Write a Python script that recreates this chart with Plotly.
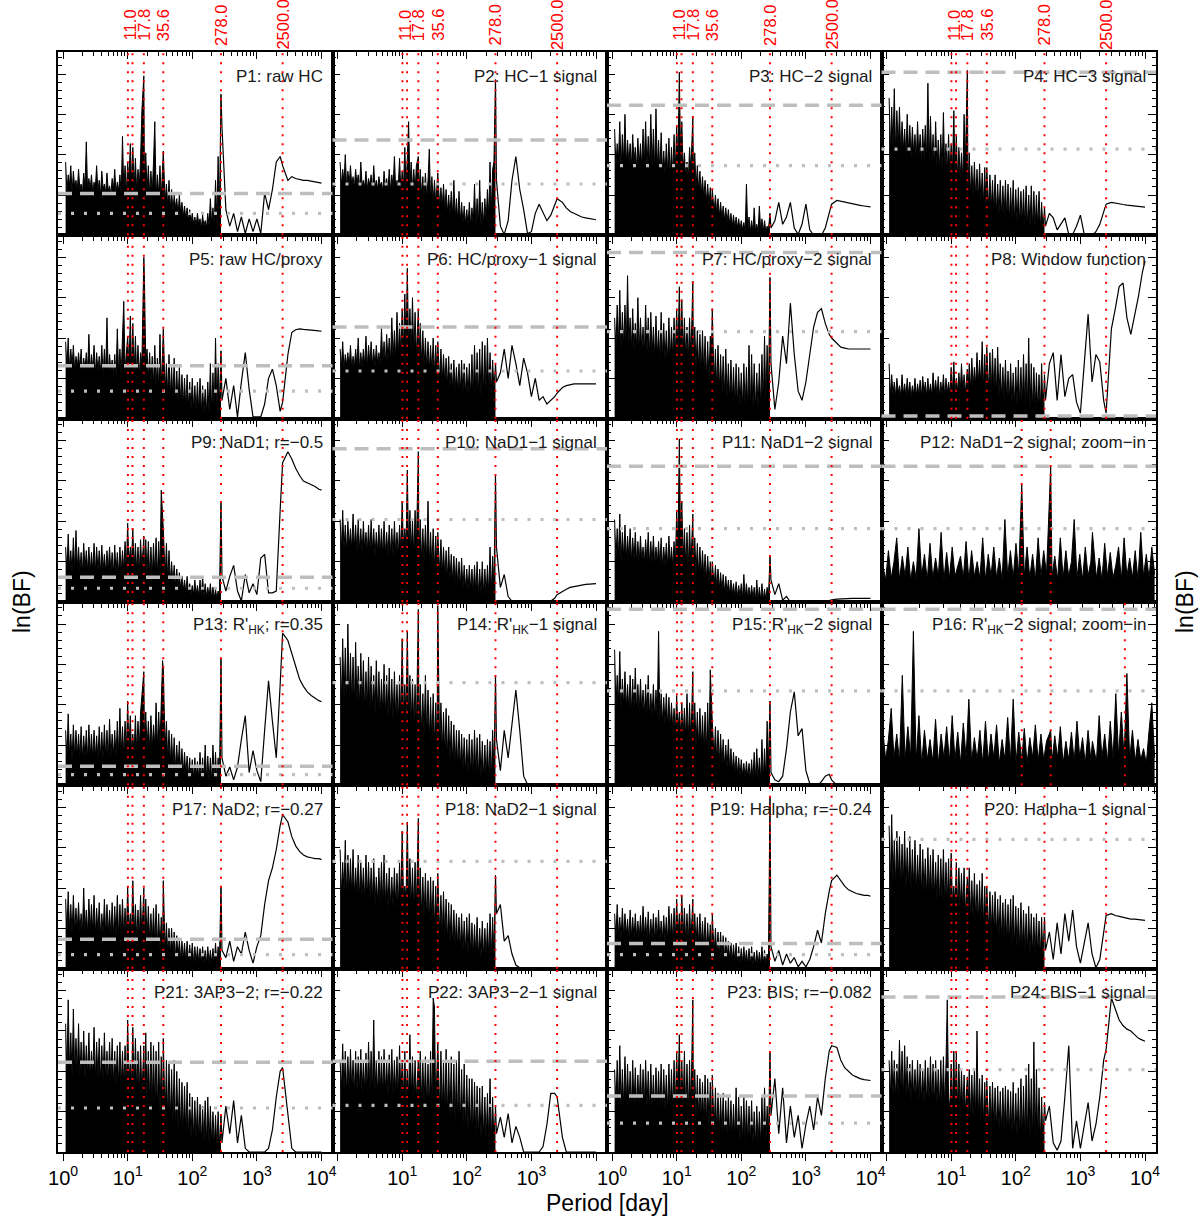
import math
import plotly.graph_objects as go

# ---------------- data ----------------
period_dense = [1.096, 1.148, 1.202, 1.259, 1.318, 1.380, 1.445, 1.514, 1.585, 1.660,
                1.738, 1.820, 1.905, 1.995, 2.089, 2.188, 2.291, 2.399, 2.512, 2.630,
                2.754, 2.884, 3.020, 3.162, 3.311, 3.467, 3.631, 3.802, 3.981, 4.169,
                4.365, 4.571, 4.786, 5.012, 5.248, 5.495, 5.754, 6.026, 6.310, 6.607,
                6.918, 7.244, 7.586, 7.943, 8.318, 8.710, 9.120, 9.550, 10.00, 10.47,
                11.00, 11.48, 12.02, 12.59, 13.18, 13.80, 14.45, 15.14, 15.85, 16.60,
                17.80, 18.20, 19.05, 19.95, 20.89, 21.88, 22.91, 23.99, 25.12, 26.30,
                27.54, 28.84, 30.20, 31.62, 33.11, 34.67, 35.60, 38.02, 39.81, 41.69,
                43.65, 45.71, 47.86, 50.12, 52.48, 54.95, 57.54, 60.26, 63.10, 66.07,
                69.18, 72.44, 75.86, 79.43, 83.18, 87.10, 91.20, 95.50, 100.0, 104.7,
                109.6, 114.8, 120.2, 125.9, 131.8, 138.0, 144.5, 151.4, 158.5, 166.0,
                173.8, 182.0, 190.5, 199.5, 208.9, 218.8, 229.1, 239.9, 251.2, 263.0,
                278.0]
period_sparse = [288, 331, 380, 437, 501, 575, 661, 759, 871, 1000, 1148, 1318, 1514, 1738,
                 1995, 2291, 2500, 3020, 3467, 3981, 4571, 5248, 6026, 6918, 7943, 9120, 10000]

label_periods = [11.0, 17.8, 35.6, 278.0, 2500.0]
label_texts = ["11.0", "17.8", "35.6", "278.0", "2500.0"]
line_periods = [10.1, 11.9, 17.8, 35.6, 278.0, 2500.0]
zoom_marks_p12 = [11.0, 17.8]
zoom_marks_p16 = [11.0, 17.8, 61.0]

panel_labels = ["P1: raw HC", "P2: HC\u22121 signal", "P3: HC\u22122 signal", "P4: HC\u22123 signal",
                "P5: raw HC/proxy", "P6: HC/proxy\u22121 signal", "P7: HC/proxy\u22122 signal", "P8: Window function",
                "P9: NaD1; r=\u22120.5", "P10: NaD1\u22121 signal", "P11: NaD1\u22122 signal", "P12: NaD1\u22122 signal; zoom\u2212in",
                "P13: R'<sub>HK</sub>; r=0.35", "P14: R'<sub>HK</sub>\u22121 signal", "P15: R'<sub>HK</sub>\u22122 signal",
                "P16: R'<sub>HK</sub>\u22122 signal; zoom\u2212in",
                "P17: NaD2; r=\u22120.27", "P18: NaD2\u22121 signal", "P19: Halpha; r=\u22120.24", "P20: Halpha\u22121 signal",
                "P21: 3AP3\u22122; r=\u22120.22", "P22: 3AP3\u22122\u22121 signal", "P23: BIS; r=\u22120.082", "P24: BIS\u22121 signal"]

level_dashed = [22.8, 52, 71, 89, 28.8, 50, 90.7, 1.5, 13.5, 83.6, 74, 74,
                10.4, None, 96, 96, 16, None, 13.7, None, 49, 49.5, 30.6, 84.5]
level_dotted = [12, 28, 38, 47, 15, 26, 47.5, None, 7.5, 45, 40, 40,
                5.8, 56, 51.5, 51.5, 7.7, 58.5, 7.7, 70.5, 24, 25.4, 15.8, 44.9]

p1_dense = [40, 24, 33, 27, 38, 23, 35, 26, 30, 24, 36, 25, 28, 23, 34, 26, 51, 24, 31, 25,
            33, 23, 29, 26, 38, 24, 30, 22, 35, 25, 28, 23, 34, 24, 27, 22, 31, 25, 36, 23,
            29, 24, 33, 22, 54, 25, 38, 23, 40, 30, 50, 28, 48, 26, 42, 24, 36, 27, 42, 68,
            87, 30, 45, 24, 38, 22, 35, 23, 40, 62, 21, 33, 22, 38, 20, 40, 46, 18, 28, 16,
            30, 14, 25, 13, 22, 15, 20, 11, 22, 12, 18, 10, 16, 9, 15, 8, 14, 7, 12, 6,
            10, 5, 12, 6, 9, 4, 11, 5, 8, 4, 12, 5, 20, 6, 15, 5, 30, 8, 43, 12, 77]
p1_sparse = [59, 14, 5, 12, 2, 10, 1, 9, 2, 9, 1, 23, 14, 25, 40, 43, 38, 30, 32, 31, 30.5, 30, 30, 29.5, 29, 28.6, 28.5]
p2_dense = [40, 27, 36, 29, 44, 26, 35, 28, 38, 27, 32, 26, 36, 28, 33, 25, 40, 27, 30, 26,
            35, 25, 31, 27, 33, 24, 38, 26, 30, 25, 32, 27, 29, 24, 35, 26, 31, 25, 36, 24,
            33, 26, 43, 25, 30, 27, 42, 24, 35, 26, 48, 27, 42, 62, 28, 40, 25, 36, 24, 38,
            43, 23, 36, 22, 32, 21, 34, 20, 30, 47, 19, 32, 18, 30, 17, 34, 34, 16, 26, 15,
            28, 14, 25, 12, 22, 11, 24, 10, 30, 9, 20, 8, 24, 7, 18, 6, 16, 6, 14, 5,
            18, 5, 15, 6, 28, 5, 20, 6, 30, 5, 18, 6, 20, 8, 25, 10, 40, 12, 36, 40, 85]
p2_sparse = [30, 5, 0.5, 8, 30, 43, 25, 14, 1, 2, 12, 17, 12, 8, 11, 17, 20, 18, 15, 13, 12, 11, 10, 9.5, 9, 8.7, 8.5]
p3_dense = [58, 38, 50, 41, 62, 36, 55, 40, 66, 38, 52, 39, 50, 37, 55, 40, 48, 36, 53, 38,
            50, 37, 58, 39, 62, 36, 54, 38, 66, 37, 58, 35, 69, 36, 52, 34, 56, 35, 46, 33,
            50, 34, 53, 32, 48, 33, 55, 35, 60, 40, 89, 45, 62, 36, 45, 32, 40, 30, 48, 35,
            65, 32, 45, 26, 38, 24, 35, 22, 32, 20, 30, 18, 28, 16, 26, 15, 25, 13, 22, 12,
            20, 10, 18, 9, 16, 8, 15, 7, 14, 6, 12, 5, 11, 4, 10, 4, 9, 3, 8, 3,
            7, 2, 28, 3, 10, 2, 8, 2, 15, 2, 6, 2, 16, 3, 9, 2, 8, 2, 5, 3, 12]
p3_sparse = [4, 8, 18, 6, 10, 18, 4, 0.5, 6, 17, 3, 0, 0, 0, 4, 12, 17, 19, 18.5, 18, 17.5, 17, 16.6, 16.3, 16, 15.7, 15.5]
p4_dense = [75, 46, 70, 48, 80, 45, 68, 47, 70, 44, 62, 46, 58, 43, 66, 45, 60, 42, 59, 44,
            55, 41, 62, 43, 55, 40, 58, 42, 60, 41, 83, 40, 65, 39, 55, 38, 62, 37, 52, 36,
            55, 35, 67, 36, 50, 34, 55, 33, 50, 35, 68, 33, 55, 30, 48, 31, 45, 29, 66, 40,
            90, 25, 45, 22, 38, 21, 40, 20, 36, 19, 39, 18, 34, 17, 37, 16, 37, 15, 33, 14,
            30, 13, 33, 12, 28, 11, 30, 10, 27, 10, 30, 9, 28, 8, 26, 8, 30, 7, 25, 7,
            26, 6, 24, 6, 25, 5, 27, 5, 22, 5, 27, 4, 24, 4, 22, 4, 24, 3, 18, 3, 15]
p4_sparse = [5, 12, 9.5, 3, 6, 9.5, 0.5, 0.5, 5, 11, 0.5, 0, 0, 2, 6, 12, 17, 18, 17.5, 17, 16.8, 16.5, 16.2, 16, 15.7, 15.5, 15.4]
p5_dense = [42, 28, 44, 27, 38, 29, 40, 26, 34, 28, 36, 27, 38, 25, 33, 27, 36, 26, 46, 25,
            35, 27, 40, 24, 36, 26, 34, 25, 40, 24, 38, 25, 55, 23, 35, 26, 32, 24, 35, 23,
            49, 24, 38, 23, 45, 64, 26, 38, 45, 28, 56, 26, 52, 25, 45, 24, 40, 23, 36, 30,
            88, 76, 30, 38, 22, 36, 20, 34, 18, 40, 17, 33, 16, 46, 18, 35, 49, 14, 30, 13,
            35, 12, 28, 11, 33, 10, 26, 9, 28, 8, 24, 7, 22, 6, 24, 6, 20, 5, 22, 5,
            18, 4, 20, 4, 22, 3, 18, 3, 16, 3, 20, 3, 30, 4, 25, 5, 44, 6, 30, 8, 37]
p5_sparse = [10, 22, 5, 18, 1, 20, 36, 16, 1, 1, 1, 8, 22, 27, 18, 4, 9, 35, 47, 48.5, 49, 48.7, 48.4, 48.2, 48, 47.9, 47.8]
p6_dense = [38, 28, 42, 27, 35, 29, 36, 28, 40, 27, 34, 28, 38, 29, 44, 27, 36, 28, 38, 29,
            45, 28, 40, 30, 42, 29, 38, 28, 40, 30, 36, 29, 50, 31, 42, 30, 46, 32, 44, 31,
            55, 33, 48, 32, 58, 34, 52, 35, 60, 38, 68, 40, 82, 38, 60, 36, 66, 35, 58, 34,
            60, 32, 52, 30, 48, 28, 44, 27, 42, 26, 40, 25, 44, 24, 40, 23, 42, 21, 38, 20,
            35, 19, 33, 18, 34, 17, 30, 16, 32, 15, 28, 15, 30, 14, 32, 14, 30, 13, 28, 13,
            30, 12, 35, 12, 40, 13, 36, 12, 38, 12, 42, 13, 40, 14, 44, 14, 36, 15, 32, 16, 30]
p6_sparse = [20, 25, 38, 22, 40, 30, 18, 33, 25, 12, 22, 10, 12, 8, 10, 12, 14, 17, 18, 18.5, 19, 19, 19, 19, 19, 19, 19]
p7_dense = [55, 38, 62, 40, 70, 37, 58, 39, 62, 38, 78, 40, 55, 38, 60, 37, 52, 38, 66, 36,
            55, 37, 50, 35, 62, 36, 55, 34, 58, 35, 50, 33, 56, 34, 48, 32, 58, 33, 52, 32,
            48, 31, 55, 32, 50, 33, 55, 34, 60, 36, 72, 38, 65, 34, 55, 33, 50, 31, 55, 32,
            75, 30, 50, 28, 48, 27, 46, 25, 48, 24, 45, 22, 42, 21, 45, 40, 60, 18, 38, 16,
            40, 15, 35, 13, 34, 12, 38, 11, 30, 10, 32, 9, 28, 8, 30, 7, 28, 7, 25, 6,
            30, 6, 28, 5, 40, 5, 35, 5, 30, 5, 25, 5, 30, 6, 35, 7, 45, 9, 40, 12, 77]
p7_sparse = [30, 5, 20, 45, 30, 63, 35, 15, 10, 20, 35, 50, 58, 60, 52, 46, 44, 41, 39, 38.5, 38, 38, 38, 38, 38, 38, 38]
p8_dense = [30, 12, 24, 13, 20, 12, 22, 14, 18, 12, 24, 13, 19, 12, 22, 13, 20, 12, 18, 13,
            22, 12, 19, 13, 21, 12, 23, 14, 20, 12, 22, 13, 19, 12, 25, 14, 21, 13, 23, 12,
            20, 13, 24, 12, 22, 14, 20, 13, 28, 14, 31, 14, 22, 15, 25, 14, 30, 15, 24, 14,
            27, 15, 30, 16, 33, 17, 28, 18, 36, 19, 32, 18, 42, 17, 35, 16, 39, 15, 36, 14,
            38, 14, 33, 13, 39, 12, 30, 11, 28, 10, 32, 9, 26, 9, 30, 8, 25, 8, 28, 7,
            32, 7, 28, 6, 35, 6, 30, 6, 44, 5, 30, 5, 28, 5, 25, 4, 24, 4, 30, 4, 24]
p8_sparse = [10, 30, 36, 10, 35, 12, 22, 24, 9, 3, 30, 57, 20, 35, 31, 10, 3, 49, 60, 72, 74, 55, 46, 56, 67, 80, 86]
p9_dense = [30, 17, 37, 18, 28, 16, 35, 17, 39, 18, 30, 17, 27, 16, 32, 18, 28, 17, 30, 16,
            27, 17, 32, 16, 30, 17, 28, 16, 31, 17, 26, 16, 28, 17, 30, 16, 27, 15, 31, 16,
            27, 15, 30, 16, 28, 17, 33, 18, 43, 20, 30, 22, 40, 18, 32, 17, 30, 16, 34, 18,
            36, 17, 34, 16, 33, 15, 30, 14, 32, 15, 35, 14, 33, 16, 61, 40, 40, 14, 32, 12,
            28, 11, 22, 10, 20, 9, 18, 8, 16, 7, 14, 6, 12, 5, 14, 5, 10, 4, 9, 4,
            12, 4, 9, 3, 12, 3, 14, 3, 10, 3, 8, 3, 10, 2, 8, 2, 7, 2, 6, 3, 54]
p9_sparse = [14, 6, 14, 20, 6, 0.5, 15, 5, 10, 4, 24, 26, 5, 5, 6, 50, 76, 82, 78, 73, 69, 66, 65, 64, 63, 61.5, 61]
p10_dense = [45, 28, 50, 29, 42, 27, 44, 30, 40, 28, 48, 29, 42, 27, 45, 28, 40, 26, 44, 28,
             38, 27, 42, 26, 45, 28, 40, 25, 38, 27, 42, 26, 40, 25, 44, 26, 38, 25, 42, 26,
             40, 25, 44, 26, 38, 25, 42, 27, 55, 30, 40, 30, 72, 28, 50, 27, 45, 25, 50, 30,
             82, 25, 45, 23, 40, 22, 42, 21, 55, 20, 38, 19, 40, 18, 36, 17, 38, 16, 34, 15,
             30, 14, 28, 13, 30, 12, 26, 11, 25, 10, 24, 9, 22, 8, 24, 7, 20, 7, 18, 6,
             20, 6, 18, 5, 20, 5, 22, 4, 18, 4, 22, 4, 18, 4, 20, 4, 30, 5, 25, 8, 69]
p10_sparse = [30, 8, 15, 3, 0.3, 0, 0, 0, 0, 0, 0, 0, 0, 0, 0.5, 2, 4, 6, 7, 8, 8.5, 9, 9.3, 9.6, 9.8, 10, 10]
p11_dense = [45, 23, 40, 25, 48, 22, 38, 24, 42, 23, 36, 24, 40, 22, 35, 23, 38, 22, 33, 21,
             36, 22, 30, 21, 34, 22, 38, 20, 33, 21, 36, 20, 30, 21, 33, 20, 35, 19, 30, 20,
             32, 19, 36, 20, 30, 19, 33, 20, 50, 30, 89, 35, 55, 22, 40, 20, 38, 18, 42, 20,
             48, 17, 35, 16, 32, 15, 30, 14, 28, 13, 26, 12, 25, 11, 22, 10, 22, 9, 20, 8,
             18, 7, 16, 6, 15, 5, 14, 5, 12, 4, 12, 4, 10, 3, 11, 3, 9, 3, 10, 2,
             15, 2, 10, 2, 8, 2, 9, 2, 8, 1, 12, 1, 8, 1, 10, 1, 7, 1, 8, 2, 25]
p11_sparse = [12, 4, 10, 1, 3, 0, 0, 0, 0, 0, 0, 0, 0, 0, 0.2, 0.8, 1.2, 1.6, 1.8, 2, 2, 2, 2, 2, 2, 2, 2]
p12_zoom = [20, 12, 28, 13, 22, 35, 12, 25, 14, 30, 12, 22, 13, 40, 14, 26, 12, 32, 13, 24,
            14, 38, 12, 27, 13, 30, 14, 20, 25, 13, 33, 12, 28, 14, 22, 13, 35, 12, 26, 14,
            30, 13, 24, 12, 45, 14, 28, 13, 32, 15, 64, 14, 30, 13, 26, 12, 35, 14, 28, 15,
            74, 14, 25, 12, 35, 13, 28, 14, 22, 45, 13, 26, 12, 30, 14, 22, 38, 13, 24, 12,
            32, 14, 27, 13, 20, 30, 12, 35, 14, 24, 13, 28, 12, 38, 14, 26, 13, 30, 15]
p13_dense = [30, 15, 39, 16, 28, 14, 33, 15, 30, 16, 28, 15, 32, 14, 27, 15, 30, 14, 33, 15,
             28, 14, 30, 15, 27, 14, 32, 15, 29, 14, 33, 15, 30, 14, 36, 15, 28, 16, 30, 15,
             35, 16, 42, 17, 32, 16, 35, 18, 46, 20, 38, 18, 28, 17, 38, 18, 35, 20, 40, 50,
             62, 24, 40, 20, 35, 19, 38, 20, 33, 21, 45, 20, 40, 22, 50, 68, 64, 20, 35, 14,
             30, 12, 28, 10, 26, 9, 22, 8, 24, 7, 20, 6, 18, 6, 16, 5, 15, 5, 14, 4,
             15, 4, 13, 3, 18, 3, 15, 3, 22, 3, 16, 2, 15, 2, 22, 3, 18, 2, 15, 3, 69]
p13_sparse = [15, 5, 10, 3, 10, 25, 38, 7, 19, 8, 2, 30, 57, 35, 15, 55, 83, 79, 72, 64, 58, 54, 51, 49, 47.5, 46.2, 45.6]
p14_dense = [70, 45, 80, 47, 75, 44, 88, 46, 72, 45, 70, 43, 78, 45, 65, 42, 72, 44, 68, 41,
             62, 42, 70, 40, 65, 41, 60, 39, 68, 40, 62, 38, 58, 39, 66, 37, 60, 36, 64, 37,
             58, 35, 62, 36, 55, 34, 60, 35, 80, 38, 55, 36, 84, 35, 60, 33, 58, 32, 55, 31,
             96, 30, 55, 28, 50, 27, 60, 26, 52, 24, 48, 23, 50, 22, 45, 21, 98, 20, 45, 18,
             40, 16, 42, 15, 38, 14, 35, 12, 33, 11, 30, 10, 30, 9, 28, 8, 26, 7, 25, 6,
             28, 6, 25, 5, 30, 5, 26, 4, 28, 4, 24, 4, 22, 4, 25, 4, 24, 4, 30, 8, 60]
p14_sparse = [25, 8, 30, 15, 35, 52, 30, 5, 0.5, 0, 0, 0, 0, 0, 0, 0, 0, 0, 0, 0, 0, 0, 0, 0, 0, 0, 0]
p15_dense = [74, 42, 60, 44, 73, 41, 58, 43, 62, 42, 55, 41, 60, 40, 58, 42, 64, 40, 55, 39,
             58, 40, 52, 38, 55, 39, 60, 37, 50, 38, 55, 36, 52, 37, 84, 35, 50, 34, 48, 33,
             50, 32, 48, 31, 45, 30, 42, 29, 49, 30, 40, 28, 45, 27, 42, 26, 50, 25, 45, 24,
             62, 23, 45, 22, 40, 21, 42, 20, 38, 19, 40, 18, 45, 17, 63, 50, 35, 15, 32, 13,
             30, 12, 28, 11, 25, 10, 22, 9, 25, 8, 20, 7, 18, 6, 16, 6, 15, 5, 14, 5,
             12, 4, 13, 4, 12, 3, 14, 3, 18, 3, 20, 3, 15, 3, 25, 3, 20, 3, 35, 10, 46]
p15_sparse = [7, 3, 2, 5, 20, 40, 51, 27, 31, 8, 1, 0, 0, 2, 5, 6, 3, 0, 0, 0, 0, 0, 0, 0, 0, 0, 0]
p16_zoom = [30, 14, 25, 42, 15, 28, 13, 60, 14, 32, 15, 84, 13, 38, 12, 30, 14, 25, 13, 36,
            12, 28, 15, 32, 13, 38, 14, 29, 12, 34, 15, 47, 13, 26, 14, 30, 12, 35, 13, 28,
            15, 33, 12, 25, 14, 37, 13, 47, 12, 29, 14, 31, 12, 26, 15, 33, 13, 28, 14, 24,
            30, 13, 27, 15, 32, 12, 24, 14, 29, 13, 35, 15, 26, 12, 30, 14, 24, 13, 38, 15,
            28, 13, 35, 14, 50, 16, 40, 15, 61, 14, 30, 13, 25, 14, 20, 12, 30, 45, 15]
p17_dense = [38, 20, 42, 21, 35, 19, 40, 20, 33, 21, 36, 20, 30, 19, 44, 20, 32, 19, 38, 20,
             35, 19, 40, 18, 33, 19, 36, 18, 30, 19, 38, 18, 35, 19, 32, 18, 36, 17, 34, 18,
             40, 17, 35, 18, 38, 17, 33, 18, 45, 20, 30, 19, 48, 18, 35, 17, 32, 16, 40, 17,
             44, 16, 38, 15, 34, 15, 30, 14, 33, 13, 35, 12, 30, 11, 28, 10, 48, 9, 25, 8,
             22, 7, 22, 7, 20, 6, 18, 6, 16, 5, 15, 5, 14, 4, 15, 4, 13, 4, 14, 3,
             12, 3, 12, 3, 11, 3, 12, 3, 10, 3, 12, 3, 10, 3, 11, 3, 14, 3, 12, 4, 45]
p17_sparse = [10, 6, 15, 4, 12, 8, 20, 10, 3, 12, 18, 35, 48, 55, 65, 78, 84, 80, 72, 67, 64, 62, 61, 60.5, 60, 60, 59.5]
p18_dense = [65, 40, 58, 42, 70, 39, 62, 41, 60, 40, 65, 39, 55, 40, 62, 38, 58, 39, 55, 37,
             62, 38, 58, 36, 55, 37, 60, 35, 50, 36, 55, 35, 58, 34, 62, 35, 52, 33, 55, 34,
             50, 33, 55, 34, 52, 33, 58, 35, 75, 40, 45, 38, 80, 35, 60, 33, 55, 32, 58, 33,
             82, 31, 55, 29, 50, 28, 52, 27, 48, 25, 50, 24, 48, 22, 45, 21, 52, 19, 40, 18,
             42, 17, 38, 15, 36, 14, 35, 13, 32, 12, 30, 11, 28, 10, 30, 9, 26, 9, 28, 8,
             30, 8, 25, 7, 24, 7, 28, 6, 22, 6, 26, 6, 22, 6, 25, 6, 30, 7, 28, 8, 51]
p18_sparse = [30, 35, 15, 18, 8, 2, 0.5, 0, 0, 0, 0, 0, 0, 0, 0, 0, 0, 0, 0, 0, 0, 0, 0, 0, 0, 0, 0]
p19_dense = [30, 17, 35, 18, 28, 16, 33, 17, 30, 18, 27, 16, 32, 17, 28, 16, 30, 17, 26, 16,
             29, 16, 34, 17, 28, 16, 31, 15, 27, 16, 30, 15, 28, 16, 32, 15, 26, 16, 29, 15,
             28, 15, 34, 16, 30, 15, 33, 16, 38, 18, 30, 17, 40, 16, 33, 15, 30, 14, 35, 15,
             38, 14, 30, 13, 28, 13, 30, 12, 26, 11, 28, 10, 25, 10, 24, 9, 30, 8, 22, 8,
             20, 7, 20, 6, 18, 6, 17, 5, 15, 5, 14, 4, 13, 4, 14, 3, 12, 3, 11, 3,
             12, 3, 10, 2, 11, 2, 12, 2, 9, 2, 10, 2, 9, 2, 12, 2, 10, 2, 8, 3, 94]
p19_sparse = [12, 4, 10, 2, 8, 3, 6, 1, 4, 1, 5, 12, 21, 14, 30, 42, 48, 51, 48, 45, 43, 42, 41, 40.5, 40, 40, 39.5]
p20_dense = [78, 46, 84, 48, 70, 45, 75, 47, 72, 44, 68, 46, 75, 43, 66, 45, 72, 42, 65, 44,
             70, 41, 62, 43, 68, 40, 65, 42, 60, 39, 66, 40, 62, 38, 65, 39, 58, 37, 62, 36,
             60, 37, 65, 35, 58, 36, 60, 34, 63, 36, 45, 34, 58, 33, 55, 32, 52, 31, 55, 30,
             50, 29, 55, 28, 48, 27, 52, 26, 46, 25, 48, 24, 52, 23, 45, 22, 45, 21, 42, 20,
             40, 19, 42, 18, 38, 17, 40, 16, 36, 15, 38, 14, 35, 13, 38, 12, 40, 12, 34, 11,
             33, 10, 36, 10, 32, 9, 30, 9, 34, 8, 30, 8, 28, 7, 30, 7, 26, 6, 28, 6, 28]
p20_sparse = [10, 20, 5, 25, 8, 30, 15, 32, 12, 3, 15, 25, 8, 0.5, 5, 20, 29, 30, 29, 28.5, 28, 27.5, 27, 27, 26.7, 26.5, 26.3]
p21_dense = [70, 42, 83, 44, 65, 41, 78, 43, 62, 42, 70, 41, 60, 43, 66, 40, 58, 42, 65, 40,
             55, 41, 68, 39, 60, 40, 62, 38, 58, 39, 65, 38, 55, 37, 60, 38, 62, 36, 55, 37,
             58, 36, 60, 35, 55, 36, 58, 34, 72, 38, 50, 36, 68, 34, 62, 33, 55, 32, 58, 31,
             58, 30, 65, 28, 55, 27, 60, 25, 58, 24, 55, 22, 60, 21, 52, 20, 62, 18, 50, 17,
             48, 16, 45, 15, 50, 13, 44, 12, 40, 11, 38, 10, 36, 9, 38, 8, 32, 7, 30, 7,
             28, 6, 30, 6, 26, 5, 25, 5, 28, 4, 30, 4, 25, 4, 22, 3, 20, 3, 22, 3, 20]
p21_sparse = [5, 25, 10, 28, 5, 20, 2, 0, 0, 0, 0, 0, 2, 12, 30, 44, 46, 20, 2, 0, 0, 0, 0, 0, 0, 0, 0]
p22_dense = [50, 33, 59, 34, 55, 32, 52, 33, 56, 34, 50, 32, 55, 33, 52, 34, 56, 32, 50, 33,
             54, 32, 60, 33, 55, 32, 72, 33, 50, 31, 55, 32, 52, 31, 56, 32, 50, 31, 53, 32,
             56, 31, 50, 32, 52, 30, 58, 31, 50, 30, 55, 31, 45, 30, 64, 29, 52, 28, 50, 29,
             50, 28, 55, 27, 50, 26, 52, 25, 48, 24, 55, 23, 84, 79, 24, 50, 60, 22, 55, 21,
             50, 20, 56, 19, 50, 18, 52, 17, 48, 16, 50, 15, 55, 14, 45, 13, 48, 12, 42, 11,
             40, 10, 40, 9, 38, 8, 36, 8, 35, 7, 36, 7, 30, 6, 32, 6, 40, 5, 30, 5, 25]
p22_sparse = [10, 19, 8, 21, 5, 14, 8, 0, 0, 0, 0, 0, 3, 15, 32, 32, 30, 8, 0, 0, 0, 0, 0, 0, 0, 0, 0]
p23_dense = [45, 25, 50, 26, 58, 24, 45, 25, 52, 26, 48, 25, 44, 24, 50, 25, 46, 24, 42, 25,
             48, 24, 45, 25, 50, 24, 44, 23, 48, 24, 42, 23, 46, 24, 44, 23, 48, 22, 45, 23,
             42, 22, 48, 23, 45, 22, 50, 24, 55, 30, 64, 28, 50, 24, 55, 22, 48, 21, 50, 22,
             83, 20, 45, 19, 42, 18, 40, 17, 38, 16, 42, 15, 40, 14, 38, 13, 42, 12, 35, 11,
             32, 11, 30, 10, 32, 9, 28, 9, 30, 8, 28, 8, 26, 7, 35, 7, 30, 6, 25, 6,
             30, 5, 28, 5, 25, 5, 28, 4, 22, 4, 25, 4, 22, 4, 30, 5, 35, 5, 25, 8, 54]
p23_sparse = [20, 40, 10, 35, 5, 25, 8, 20, 2, 15, 25, 12, 30, 20, 40, 55, 58, 57, 50, 46, 44, 42, 41, 40, 39.5, 39, 39]
p24_dense = [50, 30, 55, 31, 50, 29, 48, 30, 61, 31, 55, 29, 58, 30, 52, 29, 48, 28, 50, 29,
             45, 28, 50, 27, 48, 28, 45, 27, 50, 26, 46, 27, 52, 26, 48, 25, 50, 26, 45, 25,
             50, 25, 52, 24, 48, 83, 30, 24, 48, 25, 55, 24, 54, 23, 48, 22, 45, 21, 42, 22,
             41, 20, 45, 19, 42, 18, 45, 17, 66, 17, 40, 16, 42, 15, 38, 15, 39, 14, 36, 14,
             38, 13, 35, 12, 36, 12, 33, 11, 35, 11, 36, 10, 34, 10, 33, 9, 38, 9, 32, 8,
             35, 8, 40, 8, 36, 7, 42, 7, 48, 7, 40, 6, 60, 6, 45, 6, 35, 5, 30, 5, 27]
p24_sparse = [17, 25, 5, 1, 6, 30, 58, 2, 17, 2, 15, 27, 6, 15, 30, 50, 56, 84, 78, 72, 69, 67, 66, 64, 62, 61, 60.4]

dense_sets = [p1_dense, p2_dense, p3_dense, p4_dense, p5_dense, p6_dense, p7_dense, p8_dense,
              p9_dense, p10_dense, p11_dense, p12_zoom, p13_dense, p14_dense, p15_dense, p16_zoom,
              p17_dense, p18_dense, p19_dense, p20_dense, p21_dense, p22_dense, p23_dense, p24_dense]
sparse_sets = [p1_sparse, p2_sparse, p3_sparse, p4_sparse, p5_sparse, p6_sparse, p7_sparse, p8_sparse,
               p9_sparse, p10_sparse, p11_sparse, None, p13_sparse, p14_sparse, p15_sparse, None,
               p17_sparse, p18_sparse, p19_sparse, p20_sparse, p21_sparse, p22_sparse, p23_sparse, p24_sparse]
zoom_panels = {11: zoom_marks_p12, 15: zoom_marks_p16}

# ---------------- figure ----------------
W, H = 1201, 1222
ML, MR, MT, MB = 58, 45, 52, 70
XR = [-0.078, 4.17]
ZR = [0.03, 2.01]
FONT = "Liberation Sans, Arial, Helvetica, sans-serif"
GRAY = "#BEBEBE"

major_vals = [1, 10, 100, 1000, 10000]
minor_vals = [m * 10 ** k for k in range(0, 5) for m in range(2, 10)]
sup = ["10<sup>0</sup>", "10<sup>1</sup>", "10<sup>2</sup>", "10<sup>3</sup>", "10<sup>4</sup>"]
bottom_text = [sup, ["", sup[1], sup[2], sup[3], ""], sup, ["", sup[1], sup[2], sup[3], sup[4]]]

fig = go.Figure()
layout = dict(width=W, height=H, margin=dict(l=ML, r=MR, t=MT, b=MB),
              paper_bgcolor="white", plot_bgcolor="white", showlegend=False,
              font=dict(family=FONT, color="black"))
shapes, annotations = [], []


def frac_of(p, rng):
    return (math.log10(p) - rng[0]) / (rng[1] - rng[0])


for i in range(24):
    r, c = divmod(i, 4)
    n = "" if i == 0 else str(i + 1)
    xd = [c / 4, (c + 1) / 4]
    yd = [1 - (r + 1) / 6, 1 - r / 6]
    zoom = i in zoom_panels
    xr = ZR if zoom else XR

    xa = dict(domain=xd, anchor="y" + n, type="log", range=xr,
              showline=True, linecolor="black", linewidth=1.6, mirror=True,
              ticks="outside", ticklen=7, tickwidth=1.2, tickcolor="black",
              tickmode="array", tickvals=major_vals, showticklabels=False,
              showgrid=False, zeroline=False,
              minor=dict(ticks="outside", ticklen=4, tickwidth=1, tickcolor="black",
                         tickmode="array", tickvals=minor_vals, showgrid=False))
    if r == 5:
        xa.update(showticklabels=True, ticktext=bottom_text[c],
                  tickfont=dict(size=20, family=FONT, color="black"))
    ya = dict(domain=yd, anchor="x" + n, range=[0, 100],
              showline=True, linecolor="black", linewidth=1.6,
              mirror="ticks" if c == 3 else True,
              ticks="inside", ticklen=8, tickwidth=1.2, tickcolor="black",
              tickmode="linear", tick0=0, dtick=22, showticklabels=False,
              showgrid=False, zeroline=False,
              minor=dict(ticks="inside", ticklen=4, tickwidth=1, tickcolor="black",
                         tickmode="linear", tick0=0, dtick=4.4, showgrid=False))
    layout["xaxis" + n] = xa
    layout["yaxis" + n] = ya

    if zoom:
        zx = period_dense[:len(dense_sets[i])]
        fig.add_trace(go.Scatter(x=zx, y=dense_sets[i], mode="lines",
                                 line=dict(color="black", width=1), fill="tozeroy",
                                 fillcolor="black", xaxis="x" + n, yaxis="y" + n,
                                 hoverinfo="skip"))
    else:
        fig.add_trace(go.Scatter(x=period_dense, y=dense_sets[i], mode="lines",
                                 line=dict(color="black", width=1), fill="tozeroy",
                                 fillcolor="black", xaxis="x" + n, yaxis="y" + n,
                                 hoverinfo="skip"))
        fig.add_trace(go.Scatter(x=period_dense[-1:] + period_sparse,
                                 y=dense_sets[i][-1:] + sparse_sets[i], mode="lines",
                                 line=dict(color="black", width=1.2),
                                 xaxis="x" + n, yaxis="y" + n, hoverinfo="skip"))

    if level_dashed[i] is not None:
        shapes.append(dict(type="line", xref="x%s domain" % n, yref="y" + n,
                           x0=0, x1=1, y0=level_dashed[i], y1=level_dashed[i],
                           line=dict(color=GRAY, width=3.5, dash="14px,8px")))
    if level_dotted[i] is not None:
        shapes.append(dict(type="line", xref="x%s domain" % n, yref="y" + n,
                           x0=0, x1=1, y0=level_dotted[i], y1=level_dotted[i],
                           line=dict(color=GRAY, width=3.2, dash="3px,10px")))
    marks = zoom_panels[i] if zoom else line_periods
    for p in marks:
        f = frac_of(p, xr)
        shapes.append(dict(type="line", xref="x%s domain" % n, yref="y%s domain" % n,
                           x0=f, x1=f, y0=0, y1=1,
                           line=dict(color="red", width=2, dash="2px,7px")))
    annotations.append(dict(text=panel_labels[i], xref="x%s domain" % n, yref="y%s domain" % n,
                            x=1, y=1, xanchor="right", yanchor="middle", xshift=-8, yshift=-24,
                            showarrow=False, font=dict(size=17, family=FONT, color="#1a1a1a")))

# top ticks for the first row and the red period labels
for c in range(4):
    n = "" if c == 0 else str(c + 1)
    k = str(25 + c)
    layout["xaxis" + k] = dict(overlaying="x" + n, anchor="y" + n, side="top", type="log", range=XR,
                               showline=False, ticks="inside", ticklen=7, tickwidth=1.2,
                               tickcolor="black", tickmode="array", tickvals=major_vals,
                               showticklabels=False, showgrid=False, zeroline=False,
                               minor=dict(ticks="inside", ticklen=4, tickwidth=1, tickcolor="black",
                                          tickmode="array", tickvals=minor_vals, showgrid=False))
    fig.add_trace(go.Scatter(x=[], y=[], xaxis="x" + k, yaxis="y" + n, hoverinfo="skip"))
    for p, lab in zip(label_periods, label_texts):
        f = frac_of(p, XR)
        annotations.append(dict(text=lab, xref="paper", yref="paper", x=(c + f) / 4, y=1,
                                yshift=27, xanchor="center", yanchor="middle", textangle=-90,
                                showarrow=False, font=dict(size=16.5, family=FONT, color="red")))

annotations.append(dict(text="Period [day]", xref="paper", yref="paper", x=0.5, y=0, yshift=-51,
                        xanchor="center", yanchor="middle", showarrow=False,
                        font=dict(size=23, family=FONT, color="black")))
annotations.append(dict(text="ln(BF)", xref="paper", yref="paper", x=0, y=0.5, xshift=-36,
                        xanchor="center", yanchor="middle", textangle=-90, showarrow=False,
                        font=dict(size=23, family=FONT, color="black")))
annotations.append(dict(text="ln(BF)", xref="paper", yref="paper", x=1, y=0.5, xshift=29,
                        xanchor="center", yanchor="middle", textangle=-90, showarrow=False,
                        font=dict(size=23, family=FONT, color="black")))

layout["shapes"] = shapes
layout["annotations"] = annotations
fig.update_layout(**layout)
fig.write_html("out.html", config={"displayModeBar": False},
               post_script="document.body.style.margin='0px';")
